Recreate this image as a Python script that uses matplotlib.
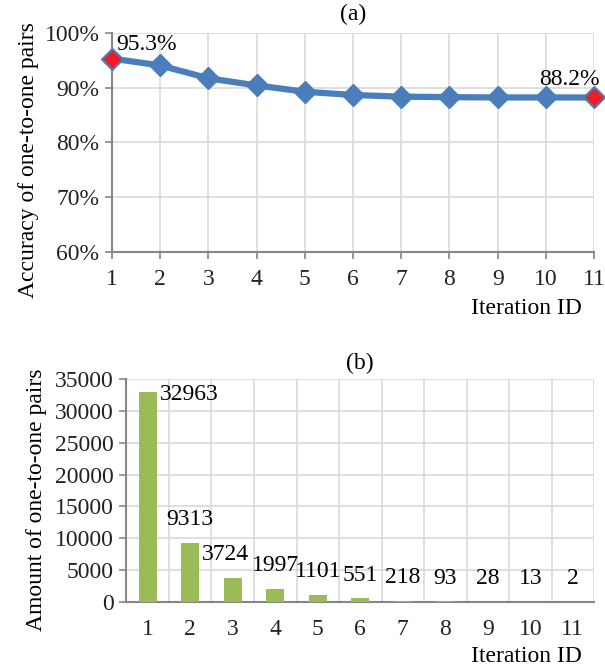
import matplotlib.pyplot as plt
import numpy as np

plt.rcParams['font.family'] = ['Liberation Serif', 'DejaVu Serif']

# Data
iterations = np.arange(1, 12)
accuracy = [95.3, 94.05, 91.7, 90.4, 89.25, 88.65, 88.35, 88.25, 88.2, 88.2, 88.2]
pairs = [32963, 9313, 3724, 1997, 1101, 551, 218, 93, 28, 13, 2]
acc_ticks = [60, 70, 80, 90, 100]
pair_ticks = [0, 5000, 10000, 15000, 20000, 25000, 30000, 35000]

blue = '#4a7ebb'
green = '#9bbb59'
grid_c = '#d9d9d9'
spine_c = '#868686'
fs = 17

fig = plt.figure(figsize=(6.05, 6.7), dpi=100)

# (a) accuracy line
ax1 = fig.add_axes([0.185, 0.624, 0.797, 0.327])
ax1.plot(iterations, accuracy, color=blue, lw=4.5, marker='D', ms=11,
         markerfacecolor=blue, markeredgecolor=blue, zorder=3, clip_on=False)
ends = [0, len(iterations) - 1]
ax1.plot(iterations[ends], [accuracy[i] for i in ends], 'D', ms=10,
         markerfacecolor='#ee1c25', markeredgecolor=blue, mew=1, zorder=4, clip_on=False)
ax1.text(iterations[0] + 0.1, accuracy[0] + 0.7, f'{accuracy[0]:.1f}%', fontsize=fs, va='bottom')
ax1.text(iterations[-1] + 0.12, accuracy[-1] + 1.3, f'{accuracy[-1]:.1f}%', fontsize=fs,
         va='bottom', ha='right')
ax1.set_xlim(1, 11)
ax1.set_ylim(60, 100)
ax1.set_xticks(iterations)
ax1.set_yticks(acc_ticks)
ax1.set_yticklabels([f'{t}%' for t in acc_ticks])
ax1.grid(True, color=grid_c, lw=1.2)
ax1.set_axisbelow(True)
ax1.tick_params(labelsize=fs, colors=spine_c, labelcolor='#222222', length=5, width=1.2)
ax1.tick_params(axis='x', pad=7)
ax1.tick_params(axis='y', pad=4)
for s in ['top', 'right']:
    ax1.spines[s].set_visible(False)
for s in ['left', 'bottom']:
    ax1.spines[s].set_color(spine_c)
    ax1.spines[s].set_linewidth(1.5)
ax1.set_ylabel('Accuracy of one-to-one pairs', fontsize=fs)
ax1.yaxis.set_label_coords(-0.152, 0.42)
ax1.set_title('(a)', fontsize=fs, pad=9)
fig.text(0.962, 0.54, 'Iteration ID', fontsize=fs, ha='right', va='center')

# (b) amount bars
ax2 = fig.add_axes([0.209, 0.1015, 0.773, 0.333])
ax2.bar(iterations, pairs, width=0.42, color=green, zorder=3)
label_dx = [0.98, 0, -0.18, 0, 0, 0, 0, 0, 0, 0, 0]
label_dy = [-400, 3650, 3650, 3650, 3650, 3650, 3650, 3650, 3650, 3650, 3650]
for x, v, dx, dy in zip(iterations, pairs, label_dx, label_dy):
    ax2.text(x + dx, v + dy, str(v), fontsize=fs, ha='center', va='center', zorder=4)
ax2.set_xlim(0.5, 11.5)
ax2.set_ylim(0, 35000)
ax2.set_xticks(iterations)
ax2.set_xticks(np.arange(0.5, 12, 1), minor=True)
ax2.set_yticks(pair_ticks)
ax2.grid(False)
ax2.grid(True, axis='y', color=grid_c, lw=1.2)
ax2.grid(True, axis='x', which='minor', color=grid_c, lw=1.2)
ax2.set_axisbelow(True)
ax2.tick_params(labelsize=fs, colors=spine_c, labelcolor='#222222', length=5, width=1.2)
ax2.tick_params(axis='x', which='both', length=0, pad=12)
ax2.tick_params(axis='y', pad=4)
for s in ['top', 'right']:
    ax2.spines[s].set_visible(False)
for s in ['left', 'bottom']:
    ax2.spines[s].set_color(spine_c)
    ax2.spines[s].set_linewidth(1.5)
ax2.set_ylabel('Amount of one-to-one pairs', fontsize=fs)
ax2.yaxis.set_label_coords(-0.17, 0.46)
ax2.set_title('(b)', fontsize=fs, pad=7)
fig.text(0.962, 0.02, 'Iteration ID', fontsize=fs, ha='right', va='center')

plt.savefig('out.png', dpi=100)
